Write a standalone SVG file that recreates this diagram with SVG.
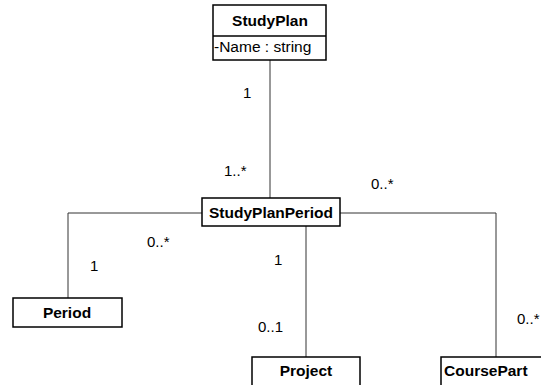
<svg xmlns="http://www.w3.org/2000/svg" width="541" height="385" viewBox="0 0 541 385">
<style>
.box{fill:#fff;stroke:#000;stroke-width:1.5}
.name{font-family:"Liberation Sans",Arial,sans-serif;font-weight:bold;font-size:15.5px;fill:#000}
.attr{font-family:"Liberation Sans",Arial,sans-serif;font-size:15.5px;fill:#000}
.lbl{font-family:"Liberation Sans",Arial,sans-serif;font-size:15px;fill:#000}
.conn{fill:none;stroke:#333;stroke-width:1}
</style>
<rect width="541" height="385" fill="#fff"/>
<g id="connectors">
<line class="conn" x1="270" y1="60" x2="270" y2="198"/>
<polyline class="conn" points="202,213 68,213 68,298"/>
<line class="conn" x1="306" y1="226" x2="306" y2="357"/>
<polyline class="conn" points="340,213 496,213 496,357"/>
<text class="lbl" x="243" y="98">1</text>
<text class="lbl" x="224" y="176">1..*</text>
<text class="lbl" x="371" y="189">0..*</text>
<text class="lbl" x="147" y="247">0..*</text>
<text class="lbl" x="90" y="271">1</text>
<text class="lbl" x="274" y="265">1</text>
<text class="lbl" x="258" y="332">0..1</text>
<text class="lbl" x="517" y="324">0..*</text>
</g>
<g id="StudyPlan">
<rect class="box" x="213" y="5" width="113" height="55"/>
<line x1="213" y1="36" x2="326" y2="36" stroke="#000" stroke-width="1.5"/>
<text class="name" x="270" y="26" text-anchor="middle">StudyPlan</text>
<text class="attr" x="214" y="52">-Name : string</text>
</g>
<g id="StudyPlanPeriod">
<rect class="box" x="202" y="198" width="138" height="28"/>
<text class="name" x="271" y="218" text-anchor="middle">StudyPlanPeriod</text>
</g>
<g id="Period">
<rect class="box" x="13" y="298" width="109" height="29"/>
<text class="name" x="67" y="318" text-anchor="middle">Period</text>
</g>
<g id="Project">
<rect class="box" x="252" y="357" width="108" height="40"/>
<text class="name" x="306" y="376" text-anchor="middle">Project</text>
</g>
<g id="CoursePart">
<rect class="box" x="441" y="357" width="120" height="40"/>
<text class="name" x="444" y="376">CoursePart</text>
</g>
</svg>
